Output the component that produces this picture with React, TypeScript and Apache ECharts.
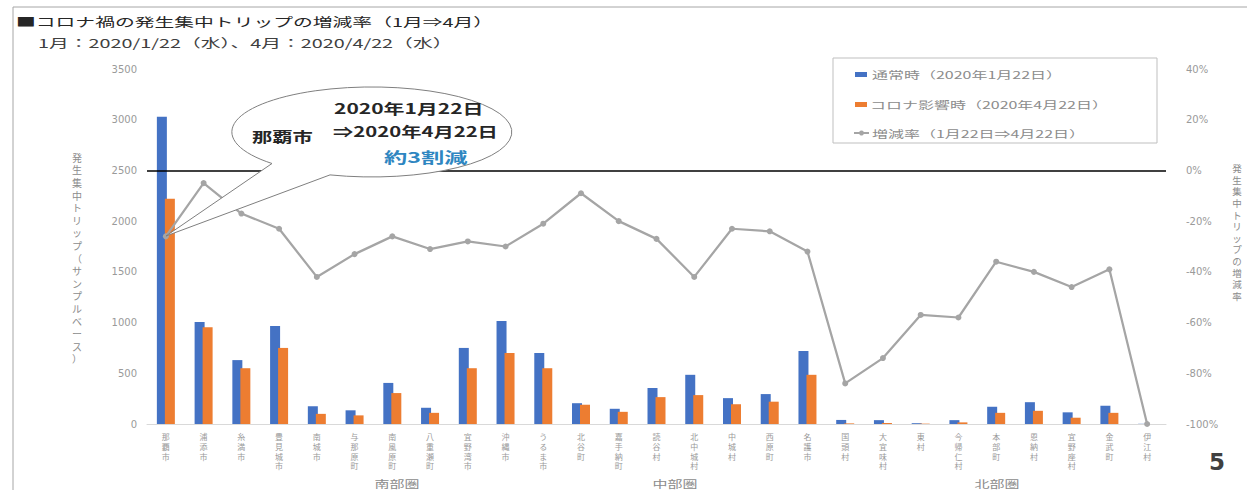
import React, { useEffect, useRef } from "react";
import * as echarts from "echarts";

const categories = [
  "那覇市", "浦添市", "糸満市", "豊見城市", "南城市", "与那原町", "南風原町", "八重瀬町", "宜野湾市",
  "沖縄市", "うるま市", "北谷町", "嘉手納町", "読谷村", "北中城村", "中城村", "西原町", "名護市",
  "国頭村", "大宜味村", "東村", "今帰仁村", "本部町", "恩納村", "宜野座村", "金武町", "伊江村",
];
const groupLabels = ["南部圏", "中部圏", "北部圏"];
const normalTrips = [3030, 1005, 630, 965, 175, 135, 405, 160, 750, 1015, 700, 205, 150, 355, 485, 255, 295, 720, 40, 38, 8, 38, 170, 215, 115, 180, 2];
const coronaTrips = [2220, 955, 550, 750, 100, 85, 305, 110, 550, 700, 550, 190, 120, 265, 285, 195, 220, 485, 6, 10, 3.5, 16, 110, 130, 62, 110, 0];
const changeRate = [-26, -5, -17, -23, -42, -33, -26, -31, -28, -30, -21, -9, -20, -27, -42, -23, -24, -32, -84, -74, -57, -58, -36, -40, -46, -39, -100];
const seriesNames = ["通常時（2020年1月22日）", "コロナ影響時（2020年4月22日）", "増減率（1月22日⇒4月22日）"];
const titleLines = ["■コロナ禍の発生集中トリップの増減率（1月⇒4月）", "1月：2020/1/22（水）、4月：2020/4/22（水）"];
const leftAxisName = "発生集中トリップ（サンプルベース）";
const rightAxisName = "発生集中トリップの増減率";

const bubblePath = "M272 163.5 A140 45 0 1 1 330 174.9 L166 236 Z";
echarts.graphic.registerShape("bubble", echarts.graphic.extendPath(bubblePath, {}));

const FONT = "'Noto Sans CJK JP', 'Noto Sans', sans-serif";
const GRAY = "#8C8C8C";

export default function App() {
  const ref = useRef<HTMLDivElement>(null);
  useEffect(() => {
    document.body.style.margin = "0";
    const chart = echarts.init(ref.current!, null, { renderer: "svg" });
    const vertical = (s: string) => s.split("").join("\n");
    const option = {
      animation: false,
      backgroundColor: "#ffffff",
      textStyle: { fontFamily: FONT },
      grid: { left: 147, right: 81, top: 69, bottom: 66 },
      xAxis: [
        {
          type: "category",
          data: categories,
          axisLine: { lineStyle: { color: "#D9D9D9" } },
          axisTick: { show: false },
          axisLabel: {
            interval: 0,
            margin: 8,
            fontSize: 8,
            lineHeight: 9.6,
            color: "#999999",
            verticalAlign: "top",
            formatter: (v: string) => vertical(v),
          },
        },
      ],
      yAxis: [
        {
          type: "value",
          min: 0,
          max: 3500,
          interval: 500,
          axisLine: { show: false },
          axisTick: { show: false },
          splitLine: { show: false },
          axisLabel: {
            fontSize: 10,
            color: "#9A9A9A",
            margin: 10,
            fontFamily: "DejaVu Sans",
            formatter: (v: number) => String(v),
          },
        },
        {
          type: "value",
          min: -100,
          max: 40,
          interval: 20,
          position: "right",
          axisLine: { show: false },
          axisTick: { show: false },
          splitLine: { show: false },
          axisLabel: { fontSize: 10, color: "#9A9A9A", margin: 20, fontFamily: "DejaVu Sans", formatter: "{value}%" },
        },
      ],
      series: [
        {
          name: seriesNames[0],
          type: "bar",
          data: normalTrips,
          barWidth: 10,
          barGap: "-20%",
          itemStyle: { color: "#4472C4" },
        },
        {
          name: seriesNames[1],
          type: "bar",
          data: coronaTrips,
          barWidth: 10,
          itemStyle: { color: "#ED7D31" },
        },
        {
          name: seriesNames[2],
          type: "line",
          yAxisIndex: 1,
          data: changeRate,
          symbol: "circle",
          symbolSize: 6,
          z: 5,
          lineStyle: { color: "#A5A5A5", width: 2.25 },
          itemStyle: { color: "#A5A5A5" },
          markLine: {
            silent: true,
            symbol: "none",
            label: { show: false },
            lineStyle: { color: "#000000", width: 1.5, type: "solid" },
            data: [{ yAxis: 0 }],
          },
        },
      ],
      graphic: [
        {
          type: "rect",
          silent: true,
          z: -10,
          shape: { x: 13, y: 7, width: 1400, height: 700 },
          style: { fill: "none", stroke: "#A6A6A6", lineWidth: 1 },
        },
        {
          type: "text",
          x: 16,
          y: 22,
          scaleX: 1.65,
          style: { text: titleLines[0], fontSize: 12, fill: "#262626", fontFamily: FONT, textVerticalAlign: "middle" },
        },
        {
          type: "text",
          x: 38,
          y: 43,
          scaleX: 1.65,
          style: { text: titleLines[1], fontSize: 12, fill: "#404040", fontFamily: FONT, textVerticalAlign: "middle" },
        },
        {
          type: "text",
          x: 77,
          y: 258,
          style: {
            text: vertical(leftAxisName),
            fontSize: 10,
            lineHeight: 12.6,
            fill: GRAY,
            fontFamily: FONT,
            textAlign: "center",
            textVerticalAlign: "middle",
          },
        },
        {
          type: "text",
          x: 1237,
          y: 232,
          style: {
            text: vertical(rightAxisName),
            fontSize: 9.5,
            lineHeight: 11.6,
            fill: GRAY,
            fontFamily: FONT,
            textAlign: "center",
            textVerticalAlign: "middle",
          },
        },
        // legend
        {
          type: "rect",
          z: 10,
          shape: { x: 833, y: 58, width: 324, height: 85 },
          style: { fill: "#ffffff", stroke: "#BFBFBF", lineWidth: 1 },
        },
        { type: "rect", z: 11, shape: { x: 855, y: 72, width: 12, height: 5 }, style: { fill: "#4472C4" } },
        { type: "rect", z: 11, shape: { x: 855, y: 102, width: 12, height: 5 }, style: { fill: "#ED7D31" } },
        { type: "line", z: 11, shape: { x1: 854, y1: 133, x2: 869, y2: 133 }, style: { stroke: "#A5A5A5", lineWidth: 2 } },
        { type: "circle", z: 11, shape: { cx: 861.5, cy: 133, r: 2.5 }, style: { fill: "#A5A5A5" } },
        {
          type: "text",
          z: 11,
          x: 872,
          y: 75,
          scaleX: 1.6,
          style: { text: seriesNames[0], fontSize: 10, fill: GRAY, fontFamily: FONT, textVerticalAlign: "middle" },
        },
        {
          type: "text",
          z: 11,
          x: 870,
          y: 105,
          scaleX: 1.6,
          style: { text: seriesNames[1], fontSize: 10, fill: GRAY, fontFamily: FONT, textVerticalAlign: "middle" },
        },
        {
          type: "text",
          z: 11,
          x: 872,
          y: 134,
          scaleX: 1.6,
          style: { text: seriesNames[2], fontSize: 10, fill: GRAY, fontFamily: FONT, textVerticalAlign: "middle" },
        },
        // callout
        {
          type: "bubble",
          z: 20,
          x: 0,
          y: 0,
          style: { fill: "#ffffff", stroke: "#7F7F7F", lineWidth: 1 },
        },
        {
          type: "text",
          z: 21,
          x: 252,
          y: 136,
          scaleX: 1.45,
          style: { text: "那覇市", fontSize: 14, fontWeight: "bold", fill: "#262626", fontFamily: FONT, textVerticalAlign: "middle" },
        },
        {
          type: "text",
          z: 21,
          x: 334,
          y: 108,
          scaleX: 1.5,
          style: { text: "2020年1月22日", fontSize: 14, fontWeight: "bold", fill: "#262626", fontFamily: FONT, textVerticalAlign: "middle" },
        },
        {
          type: "text",
          z: 21,
          x: 333,
          y: 131,
          scaleX: 1.45,
          style: { text: "⇒2020年4月22日", fontSize: 14, fontWeight: "bold", fill: "#262626", fontFamily: FONT, textVerticalAlign: "middle" },
        },
        {
          type: "text",
          z: 21,
          x: 384,
          y: 156,
          scaleX: 1.55,
          style: { text: "約3割減", fontSize: 15, fontWeight: "bold", fill: "#2E86C1", fontFamily: FONT, textVerticalAlign: "middle" },
        },
        // group labels
        ...[397, 675, 997].map((gx, i) => ({
          type: "text",
          x: gx,
          y: 484,
          scaleX: 1.5,
          style: { text: groupLabels[i], fontSize: 10, fill: GRAY, fontFamily: FONT, textAlign: "center", textVerticalAlign: "middle" },
        })),
        {
          type: "text",
          x: 1209,
          y: 462,
          style: { text: "5", fontSize: 23, fontWeight: "bold", fill: "#404040", fontFamily: "DejaVu Sans", textVerticalAlign: "middle" },
        },
      ],
    };
    chart.setOption(option as any);
    return () => chart.dispose();
  }, []);
  return <div ref={ref} style={{ width: 1247, height: 490 }} />;
}
